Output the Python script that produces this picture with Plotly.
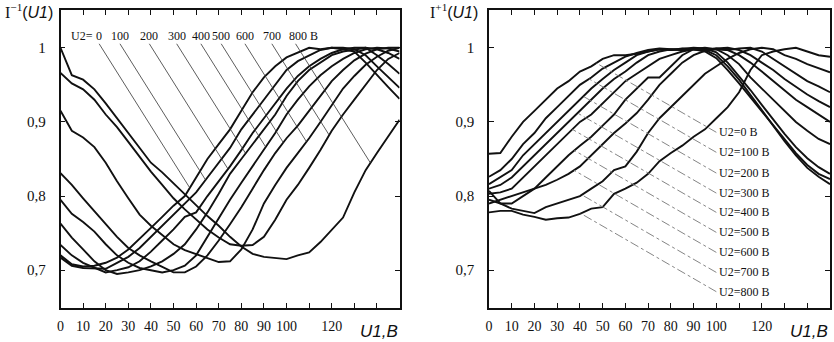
import numpy as np
import plotly.graph_objects as go

# ---------------- data ----------------
U1 = list(range(0, 151, 5))
U2_VALUES = [0, 100, 200, 300, 400, 500, 600, 700, 800]

# left panel  I^-1(U1)
L_U2_0 = [0.72, 0.708, 0.705, 0.706, 0.71, 0.717, 0.728, 0.742, 0.757, 0.772, 0.787, 0.80, 0.825, 0.85, 0.87, 0.89,
          0.915, 0.94, 0.96, 0.975, 0.987, 0.993, 1.0, 0.998, 1.0, 0.998, 0.995, 0.98, 0.963, 0.947, 0.931]
L_U2_100 = [0.717, 0.706, 0.703, 0.703, 0.702, 0.71, 0.718, 0.73, 0.745, 0.76, 0.775, 0.79, 0.805, 0.825, 0.845, 0.865,
            0.89, 0.91, 0.93, 0.95, 0.97, 0.982, 0.99, 0.997, 1.0, 1.0, 0.998, 0.99, 0.975, 0.96, 0.946]
L_U2_200 = [0.734, 0.72, 0.71, 0.703, 0.697, 0.70, 0.704, 0.712, 0.725, 0.74, 0.755, 0.772, 0.778, 0.80, 0.82, 0.84,
            0.862, 0.885, 0.905, 0.925, 0.945, 0.962, 0.975, 0.985, 0.993, 0.998, 1.0, 1.0, 0.99, 0.978, 0.965]
L_U2_300 = [0.763, 0.744, 0.728, 0.712, 0.70, 0.695, 0.697, 0.70, 0.705, 0.712, 0.722, 0.735, 0.755, 0.778, 0.803, 0.83,
            0.85, 0.87, 0.89, 0.91, 0.935, 0.955, 0.97, 0.98, 0.99, 0.995, 0.998, 1.0, 0.998, 0.993, 0.985]
L_U2_400 = [0.795, 0.776, 0.765, 0.752, 0.735, 0.72, 0.71, 0.703, 0.70, 0.697, 0.70, 0.706, 0.72, 0.745, 0.77, 0.795,
            0.818, 0.84, 0.862, 0.885, 0.91, 0.93, 0.948, 0.963, 0.975, 0.985, 0.993, 0.998, 1.0, 0.999, 0.995]
L_U2_500 = [0.831, 0.815, 0.797, 0.78, 0.762, 0.745, 0.73, 0.72, 0.712, 0.705, 0.697, 0.697, 0.705, 0.72, 0.74, 0.762,
            0.785, 0.81, 0.835, 0.858, 0.878, 0.895, 0.915, 0.935, 0.955, 0.97, 0.983, 0.992, 0.998, 1.0, 1.0]
L_U2_600 = [0.915, 0.888, 0.879, 0.866, 0.845, 0.82, 0.797, 0.775, 0.76, 0.748, 0.735, 0.727, 0.722, 0.716, 0.711, 0.712,
            0.728, 0.755, 0.79, 0.815, 0.838, 0.858, 0.878, 0.90, 0.923, 0.945, 0.962, 0.977, 0.988, 0.996, 1.0]
L_U2_700 = [0.966, 0.952, 0.944, 0.93, 0.91, 0.893, 0.873, 0.853, 0.833, 0.815, 0.797, 0.782, 0.768, 0.755, 0.744, 0.735,
            0.733, 0.734, 0.745, 0.768, 0.795, 0.815, 0.838, 0.862, 0.888, 0.91, 0.93, 0.95, 0.97, 0.985, 0.993]
L_U2_800 = [1.0, 0.963, 0.957, 0.944, 0.925, 0.905, 0.885, 0.864, 0.845, 0.832, 0.817, 0.802, 0.787, 0.773, 0.76, 0.745,
            0.732, 0.722, 0.718, 0.717, 0.715, 0.72, 0.724, 0.738, 0.755, 0.771, 0.805, 0.835, 0.858, 0.88, 0.903]

# right panel  I^+1(U1)
R_U2_0 = [0.857, 0.858, 0.88, 0.90, 0.915, 0.93, 0.945, 0.955, 0.968, 0.975, 0.985, 0.99, 0.99, 0.992, 0.995, 0.998,
          0.997, 0.999, 0.998, 0.995, 0.986, 0.97, 0.952, 0.933, 0.914, 0.895, 0.876, 0.858, 0.842, 0.83, 0.823]
R_U2_100 = [0.826, 0.835, 0.85, 0.87, 0.885, 0.905, 0.92, 0.935, 0.95, 0.96, 0.972, 0.98, 0.988, 0.993, 0.997, 0.999,
            0.998, 0.997, 0.999, 0.997, 0.99, 0.975, 0.957, 0.937, 0.916, 0.895, 0.874, 0.855, 0.838, 0.826, 0.816]
R_U2_200 = [0.816, 0.825, 0.835, 0.855, 0.87, 0.885, 0.90, 0.915, 0.93, 0.945, 0.958, 0.97, 0.98, 0.99, 0.995, 0.998,
            0.997, 0.999, 1.0, 0.999, 0.994, 0.98, 0.962, 0.943, 0.923, 0.903, 0.884, 0.866, 0.851, 0.839, 0.83]
R_U2_300 = [0.81, 0.815, 0.825, 0.84, 0.855, 0.87, 0.885, 0.90, 0.915, 0.93, 0.945, 0.958, 0.968, 0.98, 0.99, 0.995,
            0.998, 0.997, 0.999, 1.0, 0.998, 0.99, 0.978, 0.96, 0.945, 0.93, 0.915, 0.90, 0.888, 0.877, 0.87]
R_U2_400 = [0.803, 0.805, 0.81, 0.825, 0.84, 0.855, 0.87, 0.885, 0.90, 0.91, 0.925, 0.94, 0.955, 0.965, 0.975, 0.985,
            0.99, 0.995, 0.998, 0.997, 0.999, 0.997, 0.99, 0.98, 0.968, 0.955, 0.943, 0.93, 0.92, 0.91, 0.90]
R_U2_500 = [0.795, 0.79, 0.79, 0.80, 0.81, 0.825, 0.84, 0.855, 0.868, 0.88, 0.895, 0.91, 0.93, 0.945, 0.96, 0.96,
            0.975, 0.99, 0.998, 0.997, 0.999, 1.0, 0.997, 0.99, 0.98, 0.97, 0.958, 0.947, 0.937, 0.928, 0.92]
R_U2_600 = [0.79, 0.795, 0.80, 0.805, 0.81, 0.815, 0.822, 0.83, 0.84, 0.855, 0.87, 0.885, 0.898, 0.912, 0.93, 0.95,
            0.965, 0.98, 0.99, 0.996, 0.998, 0.997, 0.999, 1.0, 0.995, 0.985, 0.975, 0.965, 0.955, 0.948, 0.94]
R_U2_700 = [0.807, 0.79, 0.783, 0.78, 0.777, 0.785, 0.79, 0.795, 0.80, 0.81, 0.82, 0.835, 0.84, 0.86, 0.885, 0.905,
            0.92, 0.935, 0.95, 0.965, 0.975, 0.985, 0.993, 0.998, 1.0, 0.998, 0.99, 0.985, 0.978, 0.972, 0.967]
R_U2_800 = [0.778, 0.78, 0.78, 0.775, 0.772, 0.768, 0.77, 0.771, 0.776, 0.783, 0.785, 0.803, 0.81, 0.818, 0.83, 0.847,
            0.858, 0.868, 0.88, 0.89, 0.905, 0.92, 0.94, 0.97, 0.99, 0.995, 0.998, 1.0, 0.995, 0.99, 0.988]

LEFT_CURVES = [L_U2_0, L_U2_100, L_U2_200, L_U2_300, L_U2_400, L_U2_500, L_U2_600, L_U2_700, L_U2_800]
RIGHT_CURVES = [R_U2_0, R_U2_100, R_U2_200, R_U2_300, R_U2_400, R_U2_500, R_U2_600, R_U2_700, R_U2_800]

X_TICKS = [0, 10, 20, 30, 40, 50, 60, 70, 80, 90, 100, 110, 120, 130, 140]
X_TICK_TEXT = ["0", "10", "20", "30", "40", "50", "60", "70", "80", "90", "100", "", "120", "", ""]
Y_TICKS = [0.7, 0.8, 0.9, 1.0]
Y_TICK_TEXT = ["0,7", "0,8", "0,9", "1"]

# label placement (layout, in axis units)
LEFT_LABEL_X = [17.1, 26.3, 39.3, 51.4, 62.1, 71.1, 81.6, 93.5, 104.0]
LEFT_LABEL_Y = 1.016
LEFT_LINE_TOP = 1.0054
RIGHT_LABEL_X = 101.0
RIGHT_LABEL_Y = [0.886, 0.859, 0.831, 0.804, 0.778, 0.751, 0.724, 0.697, 0.671]

SERIF = "Liberation Serif, Times New Roman, serif"
SANS = "Liberation Sans, Arial, sans-serif"

fig = go.Figure()

# ---------------- curves ----------------
for vals in LEFT_CURVES:
    fig.add_trace(go.Scatter(x=U1, y=vals, mode="lines", xaxis="x", yaxis="y",
                             line=dict(color="#111111", width=1.9), showlegend=False, hoverinfo="skip"))
for vals in RIGHT_CURVES:
    fig.add_trace(go.Scatter(x=U1, y=vals, mode="lines", xaxis="x2", yaxis="y2",
                             line=dict(color="#111111", width=1.9), showlegend=False, hoverinfo="skip"))

# ---------------- leader lines ----------------
K_LEFT = 206.0      # U1 units per unit of I (down-right slope)
K_RIGHT = 0.00177   # I units per U1 unit (up-left slope)

def left_end(curve, u0, v0):
    uu = np.linspace(u0, 150, 4001)
    cv = np.interp(uu, U1, curve)
    lv = v0 - (uu - u0) / K_LEFT
    hit = np.nonzero(lv - cv <= 0)[0]
    i = hit[0] if len(hit) else len(uu) - 1
    return uu[i], cv[i]

def right_end(curve, u0, v0):
    uu = np.linspace(u0, 0, 4001)
    cv = np.interp(uu, U1, curve)
    lv = v0 + K_RIGHT * (u0 - uu)
    hit = np.nonzero(cv - lv <= 0)[0]
    i = hit[0] if len(hit) else len(uu) - 1
    return uu[i], cv[i]

for curve, lx in zip(LEFT_CURVES, LEFT_LABEL_X):
    ue, ve = left_end(curve, lx, LEFT_LINE_TOP)
    fig.add_trace(go.Scatter(x=[lx, ue], y=[LEFT_LINE_TOP, ve], mode="lines", xaxis="x", yaxis="y",
                             line=dict(color="#333333", width=0.8), showlegend=False, hoverinfo="skip"))

for curve, ly in zip(RIGHT_CURVES, RIGHT_LABEL_Y):
    ue, ve = right_end(curve, RIGHT_LABEL_X - 1.0, ly)
    fig.add_trace(go.Scatter(x=[RIGHT_LABEL_X - 1.0, ue], y=[ly, ve], mode="lines", xaxis="x2", yaxis="y2",
                             line=dict(color="#777777", width=0.9, dash="dashdot"),
                             showlegend=False, hoverinfo="skip"))

# ---------------- annotations ----------------
ann = []
ann.append(dict(x=15.4, y=LEFT_LABEL_Y, xref="x", yref="y", text="U2=", showarrow=False, xanchor="right",
                font=dict(family=SERIF, size=12, color="#111")))
for u2, lx in zip(U2_VALUES, LEFT_LABEL_X):
    txt = str(u2) if u2 != 800 else "800 B"
    ann.append(dict(x=lx if u2 != 800 else lx - 3.6, y=LEFT_LABEL_Y, xref="x", yref="y", text=txt,
                    showarrow=False, xanchor="center" if u2 != 800 else "left",
                    font=dict(family=SERIF, size=12, color="#111")))
for u2, ly in zip(U2_VALUES, RIGHT_LABEL_Y):
    ann.append(dict(x=RIGHT_LABEL_X - 0.8, y=ly, xref="x2", yref="y2", text="U2=%d B" % u2, showarrow=False,
                    xanchor="left", font=dict(family=SERIF, size=12, color="#111")))

ann.append(dict(x=0.0, y=0.968, xref="paper", yref="paper", xanchor="left", yanchor="middle", showarrow=False,
                text="I<sup>−1</sup><span style='font-family:Liberation Sans'>(<i>U1</i>)</span>",
                font=dict(family=SERIF, size=16, color="#111")))
ann.append(dict(x=0.512, y=0.968, xref="paper", yref="paper", xanchor="left", yanchor="middle", showarrow=False,
                text="I<sup>+1</sup><span style='font-family:Liberation Sans'>(<i>U1</i>)</span>",
                font=dict(family=SERIF, size=16, color="#111")))
ann.append(dict(x=0.4772, y=0.03, xref="paper", yref="paper", xanchor="right", yanchor="middle", showarrow=False,
                text="<i>U1,B</i>", font=dict(family=SANS, size=17, color="#111")))
ann.append(dict(x=0.9952, y=0.03, xref="paper", yref="paper", xanchor="right", yanchor="middle", showarrow=False,
                text="<i>U1,B</i>", font=dict(family=SANS, size=17, color="#111")))

xcommon = dict(range=[0, 150], tickmode="array", tickvals=X_TICKS, ticktext=X_TICK_TEXT, ticks="inside",
               ticklen=5, tickwidth=1.2, tickcolor="#111", showline=True, linecolor="#111", linewidth=1.5,
               mirror="allticks", showgrid=False, zeroline=False, ticklabelstandoff=4,
               tickfont=dict(family=SERIF, size=14, color="#111"))
ycommon = dict(range=[0.649, 1.051], tickmode="array", tickvals=Y_TICKS, ticktext=Y_TICK_TEXT, ticks="inside",
               ticklen=5, tickwidth=1.2, tickcolor="#111", showline=True, linecolor="#111", linewidth=1.5,
               mirror="allticks", showgrid=False, zeroline=False, ticklabelstandoff=10,
               tickfont=dict(family=SERIF, size=15, color="#111"))

fig.update_layout(
    width=834, height=342, margin=dict(l=0, r=0, t=0, b=0),
    paper_bgcolor="white", plot_bgcolor="white", showlegend=False,
    xaxis=dict(domain=[0.0692, 0.4772], anchor="y", **xcommon),
    yaxis=dict(domain=[0.0994, 0.9708], anchor="x", **ycommon),
    xaxis2=dict(domain=[0.5848, 0.9952], anchor="y2", **xcommon),
    yaxis2=dict(domain=[0.0994, 0.9708], anchor="x2", **ycommon),
    annotations=ann,
)

fig.write_html("out.html", config={"displayModeBar": False},
               post_script="document.body.style.margin='0';document.body.style.overflow='hidden';")
